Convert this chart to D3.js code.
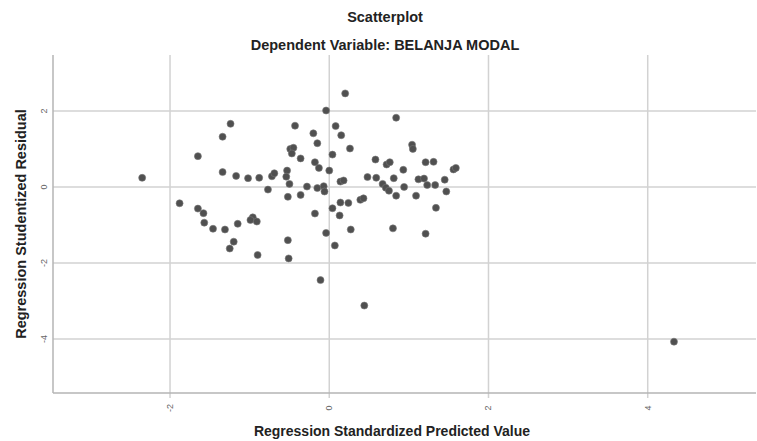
<!DOCTYPE html>
<html lang="en">

<head>
    <meta charset="UTF-8">
    <title>Scatterplot</title>
    <script src="https://d3js.org/d3.v7.min.js"></script>
    <style>
        body { margin: 0; background: #fff; }
        svg { display: block; font-family: "Liberation Sans", Arial, sans-serif; }
    </style>
</head>

<body>
    <svg id="chart" width="757" height="441"></svg>
</body>
<script>
    // values
    const predicted = [-2.35, -1.24, -1.34, -1.65, -1.34, -1.17, -1.02, -0.88, -0.72, -0.69,
        -0.53, -0.54, -0.50, -0.77, -0.52, -0.36, -0.28, -0.15, -0.07, -0.06,
        0.00, -0.04, -0.43, -0.20, -0.15, -0.49, -0.45, -0.47, -0.36, -0.18,
        -0.13, -1.88, -1.65, -1.58, -1.57, -1.46, -1.31, -1.15, -0.96, -0.99,
        -0.91, -1.20, -1.25, -0.90, -0.52, -0.51, -0.11, 0.44, -0.18, -0.04,
        0.07, 0.04, 0.13, 0.14, 0.24, 0.39, 0.43, 0.27, 0.80, 1.21,
        1.34, 1.09, 1.47, 0.14, 0.18, 0.48, 0.59, 0.67, 0.71, 0.75,
        0.84, 0.81, 0.94, 1.12, 1.19, 1.23, 1.33, 1.45, 0.20, 0.84,
        0.08, 0.15, 0.26, 0.04, 1.04, 1.05, 0.58, 0.72, 0.76, 1.21,
        1.31, 0.93, 1.56, 1.59, 4.33];
    const residual = [0.24, 1.66, 1.32, 0.81, 0.39, 0.29, 0.23, 0.24, 0.28, 0.36,
        0.43, 0.27, 0.08, -0.07, -0.26, -0.21, 0.01, -0.03, 0.02, -0.12,
        0.43, 2.01, 1.61, 1.41, 1.15, 1.00, 1.03, 0.88, 0.75, 0.65,
        0.50, -0.43, -0.57, -0.69, -0.94, -1.10, -1.12, -0.97, -0.80, -0.87,
        -0.91, -1.44, -1.62, -1.79, -1.40, -1.88, -2.45, -3.12, -0.70, -1.21,
        -1.54, -0.56, -0.75, -0.41, -0.42, -0.34, -0.30, -1.12, -1.09, -1.23,
        -0.55, -0.23, -0.12, 0.14, 0.17, 0.26, 0.24, 0.08, -0.02, -0.10,
        -0.23, 0.23, 0.00, 0.20, 0.22, 0.05, 0.05, 0.19, 2.46, 1.82,
        1.60, 1.36, 1.01, 0.85, 1.11, 1.00, 0.72, 0.59, 0.65, 0.65,
        0.66, 0.45, 0.46, 0.50, -4.07];
    const xTicks = [-2, 0, 2, 4];
    const yTicks = [2, 0, -2, -4];

    const points = predicted.map((d, i) => ({ x: d, y: residual[i] }));

    const svg = d3.select('#chart');
    const plot = { left: 53, right: 756, top: 55, bottom: 393 };

    const x = d3.scaleLinear().domain([-3.47, 5.36]).range([plot.left, plot.right]);
    const y = d3.scaleLinear().domain([-5.42, 3.47]).range([plot.bottom, plot.top]);

    // titles
    svg.append('text')
        .attr('x', 385).attr('y', 22)
        .attr('text-anchor', 'middle')
        .attr('font-size', 14.5).attr('font-weight', 'bold').attr('fill', '#222')
        .text('Scatterplot');
    svg.append('text')
        .attr('x', 385).attr('y', 50)
        .attr('text-anchor', 'middle')
        .attr('font-size', 14.5).attr('font-weight', 'bold').attr('fill', '#222')
        .text('Dependent Variable: BELANJA MODAL');

    // grid
    svg.append('g')
        .selectAll('line')
        .data(yTicks)
        .join('line')
        .attr('x1', plot.left).attr('x2', plot.right)
        .attr('y1', d => y(d)).attr('y2', d => y(d))
        .attr('stroke', '#d2d2d2').attr('stroke-width', 1.5);
    svg.append('g')
        .selectAll('line')
        .data(xTicks)
        .join('line')
        .attr('x1', d => x(d)).attr('x2', d => x(d))
        .attr('y1', plot.top).attr('y2', plot.bottom + 5)
        .attr('stroke', '#d2d2d2').attr('stroke-width', 1.5);

    // axes lines
    svg.append('line')
        .attr('x1', plot.left).attr('x2', plot.left).attr('y1', plot.top).attr('y2', plot.bottom)
        .attr('stroke', '#b4b4b4').attr('stroke-width', 1.5);
    svg.append('line')
        .attr('x1', plot.left).attr('x2', plot.right).attr('y1', plot.bottom).attr('y2', plot.bottom)
        .attr('stroke', '#b4b4b4').attr('stroke-width', 1.5);

    // tick labels (rotated)
    svg.append('g')
        .selectAll('text')
        .data(yTicks)
        .join('text')
        .attr('transform', d => `translate(47,${y(d)}) rotate(-90)`)
        .attr('text-anchor', 'middle')
        .attr('font-size', 9).attr('fill', '#666')
        .text(d => d);
    svg.append('g')
        .selectAll('text')
        .data(xTicks)
        .join('text')
        .attr('transform', d => `translate(${x(d) + 3},408) rotate(-90)`)
        .attr('text-anchor', 'middle')
        .attr('font-size', 9).attr('fill', '#666')
        .text(d => d);

    // axis titles
    svg.append('text')
        .attr('x', 392).attr('y', 436)
        .attr('text-anchor', 'middle')
        .attr('font-size', 14).attr('font-weight', 'bold').attr('fill', '#222')
        .text('Regression Standardized Predicted Value');
    svg.append('text')
        .attr('transform', 'translate(26,224) rotate(-90)')
        .attr('text-anchor', 'middle')
        .attr('font-size', 14.5).attr('font-weight', 'bold').attr('fill', '#222')
        .text('Regression Studentized Residual');

    // points
    svg.append('g')
        .selectAll('circle')
        .data(points)
        .join('circle')
        .attr('cx', d => x(d.x))
        .attr('cy', d => y(d.y))
        .attr('r', 3.5)
        .attr('fill', '#505050')
        .attr('stroke', '#777')
        .attr('stroke-width', 0.6);
</script>

</html>
